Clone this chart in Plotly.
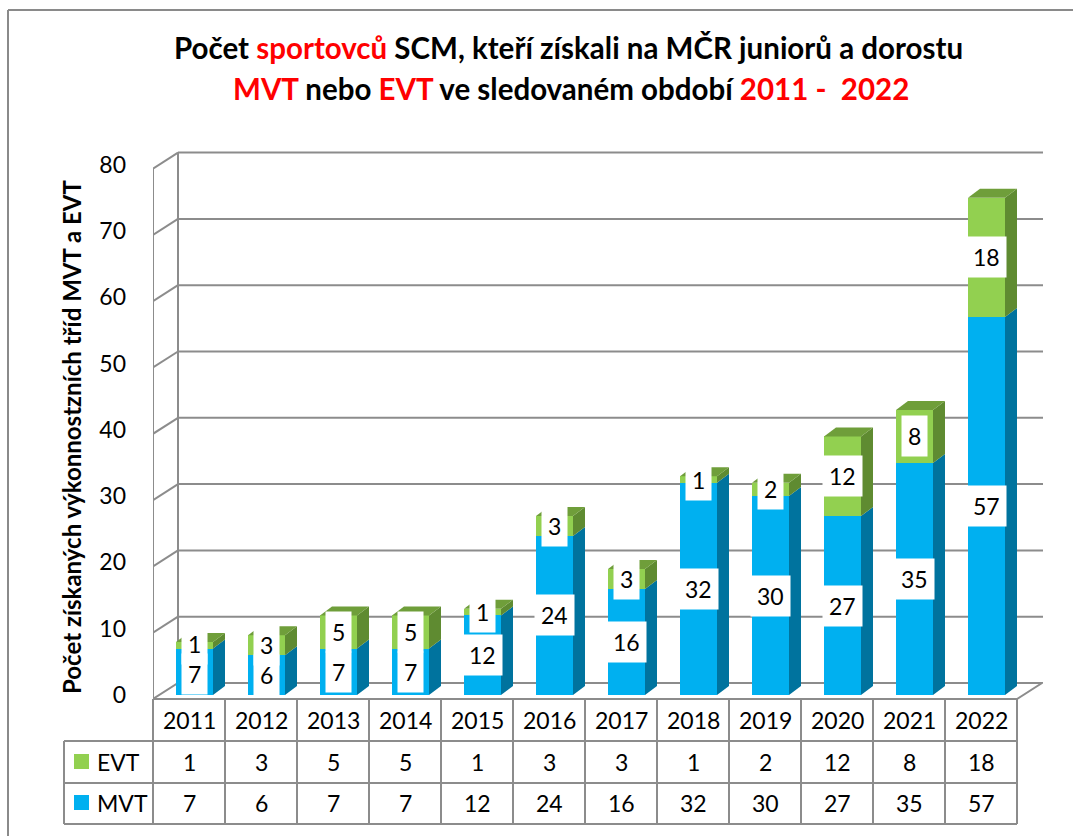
import plotly.graph_objects as go

# ---------------- data ----------------
years = ["2011", "2012", "2013", "2014", "2015", "2016",
         "2017", "2018", "2019", "2020", "2021", "2022"]
evt = [1, 3, 5, 5, 1, 3, 3, 1, 2, 12, 8, 18]
mvt = [7, 6, 7, 7, 12, 24, 16, 32, 30, 27, 35, 57]
y_ticks = [0, 10, 20, 30, 40, 50, 60, 70, 80]

# ---------------- geometry (pixels) ----------------
W, H = 1073, 836
PL, PR, PT, PB = 153, 1043, 140, 826
CELL = 72.0
Y0 = 695.0          # pixel of value 0 (bar base)
YU = 6.63           # pixels per unit
XMAX = (PR - PL) / CELL
YMAX = (Y0 - PT) / YU
YMIN = -(PB - Y0) / YU


def xp(px):
    return (px - PL) / (PR - PL)


def yp(py):
    return (PB - py) / (PB - PT)


def yd(py):
    return (Y0 - py) / YU


BAR_OFF = 5.5 / CELL
BAR_W = 37 / CELL
DX = 12 / CELL
DY = 9 / YU
WALL_DX = 25 / CELL
FRONT0 = yd(699)
BACK0 = yd(683)

GRID = "#8C8C8C"
MVT_F, MVT_S = "#00B0F0", "#00739E"
EVT_F, EVT_S, EVT_T = "#92D050", "#5F8B31", "#6F9E3A"
FONT = "Lato"

pos = [i + 0.5 + BAR_OFF for i in range(len(years))]

fig = go.Figure()
fig.add_trace(go.Bar(x=pos, y=mvt, width=BAR_W, marker=dict(color=MVT_F, line=dict(width=0)),
                     name="MVT", hoverinfo="skip"))
fig.add_trace(go.Bar(x=pos, y=evt, width=BAR_W, marker=dict(color=EVT_F, line=dict(width=0)),
                     name="EVT", hoverinfo="skip"))

shapes = []


def poly(pts, fill, layer="above", xref="x", yref="y", line_w=0, line_c=None):
    d = "M " + " L ".join(f"{a},{b}" for a, b in pts) + " Z"
    return dict(type="path", path=d, xref=xref, yref=yref, fillcolor=fill,
                line=dict(width=line_w, color=line_c or fill), layer=layer)


def line(x0, y0, x1, y1, xref="x", yref="y", w=2, c=GRID, layer="below"):
    return dict(type="line", x0=x0, y0=y0, x1=x1, y1=y1, xref=xref, yref=yref,
                line=dict(color=c, width=w), layer=layer)


# floor
shapes.append(poly([(0, FRONT0), (12, FRONT0), (12 + WALL_DX, BACK0), (WALL_DX, BACK0)],
                   "rgba(0,0,0,0)", layer="below", line_w=2, line_c=GRID))
# walls + gridlines
for v in y_ticks[1:]:
    shapes.append(line(WALL_DX, v + BACK0, XMAX, v + BACK0))
    shapes.append(line(0, v + FRONT0, WALL_DX, v + BACK0))
shapes.append(line(WALL_DX, BACK0, WALL_DX, y_ticks[-1] + BACK0))
shapes.append(line(0, FRONT0, 0, y_ticks[-1] + FRONT0))

# 3D side / top faces of bars
for i in range(len(years)):
    x1 = pos[i] + BAR_W / 2
    x0 = pos[i] - BAR_W / 2
    m, t = mvt[i], mvt[i] + evt[i]
    shapes.append(poly([(x1, 0), (x1 + DX, DY), (x1 + DX, m + DY), (x1, m)], MVT_S))
    shapes.append(poly([(x1, m), (x1 + DX, m + DY), (x1 + DX, t + DY), (x1, t)], EVT_S))
    shapes.append(poly([(x0, t), (x0 + DX, t + DY), (x1 + DX, t + DY), (x1, t)], EVT_T))

# data table (pixel frame)
rows = [741, 783, 824]
for r in rows:
    shapes.append(line(xp(64), yp(r), xp(PL + 12 * CELL), yp(r), xref="paper", yref="paper", layer="above"))
for k in range(13):
    shapes.append(line(xp(PL + k * CELL), yp(699), xp(PL + k * CELL), yp(824),
                       xref="paper", yref="paper", layer="above"))
shapes.append(line(xp(64), yp(741), xp(64), yp(824), xref="paper", yref="paper", layer="above"))
# legend keys
shapes.append(dict(type="rect", xref="paper", yref="paper", x0=xp(74), x1=xp(89), y0=yp(769), y1=yp(754),
                   fillcolor=EVT_F, line=dict(width=0)))
shapes.append(dict(type="rect", xref="paper", yref="paper", x0=xp(74), x1=xp(89), y0=yp(810), y1=yp(795),
                   fillcolor=MVT_F, line=dict(width=0)))
# chart border
shapes.append(line(xp(8), yp(10), xp(8), yp(840), xref="paper", yref="paper", c="#8A8A8A", layer="above"))
shapes.append(line(xp(8), yp(10), xp(1080), yp(10), xref="paper", yref="paper", c="#8A8A8A", layer="above"))

ann = []
TXT = dict(family=FONT, size=23, color="black")
# data labels (pushed apart slightly when a bar's two labels would collide)
MIN_SEP = 30 / YU
for i in range(len(years)):
    m_mid = mvt[i] / 2
    e_mid = mvt[i] + evt[i] / 2
    if e_mid - m_mid < MIN_SEP:
        c = (e_mid + m_mid) / 2
        m_mid, e_mid = c - MIN_SEP / 2, c + MIN_SEP / 2
    for val, mid in ((evt[i], e_mid), (mvt[i], m_mid)):
        ann.append(dict(x=pos[i], y=mid, xref="x", yref="y", text=str(val), showarrow=False,
                        xanchor="center", yanchor="middle",
                        bgcolor="white", borderpad=6, font=TXT))
# table text
for i, yv in enumerate(years):
    for txt, py in ((yv, 720), (str(evt[i]), 762), (str(mvt[i]), 803)):
        ann.append(dict(x=i + 0.5, y=yp(py), xref="x", yref="paper", text=txt, showarrow=False,
                        xanchor="center", yanchor="middle", font=TXT))
ann.append(dict(x=xp(95), y=yp(762), xref="paper", yref="paper", text="EVT", showarrow=False,
                xanchor="left", yanchor="middle", font=TXT))
ann.append(dict(x=xp(95), y=yp(803), xref="paper", yref="paper", text="MVT", showarrow=False,
                xanchor="left", yanchor="middle", font=TXT))

RED = "#FF0000"
ann.append(dict(x=xp(568), y=yp(48), xref="paper", yref="paper", showarrow=False,
                xanchor="center", yanchor="middle",
                text=f"<b>Počet <span style='color:{RED}'>sportovců</span> SCM, kteří získali na MČR juniorů a dorostu</b>",
                font=dict(family=FONT, size=29.5, color="black")))
ann.append(dict(x=xp(571), y=yp(88), xref="paper", yref="paper", showarrow=False,
                xanchor="center", yanchor="middle",
                text=f"<b><span style='color:{RED}'>MVT</span> nebo <span style='color:{RED}'>EVT</span> ve sledovaném období <span style='color:{RED}'>2011 -\u00a0 2022</span></b>",
                font=dict(family=FONT, size=29.5, color="black")))
ann.append(dict(x=xp(72), y=yp(437), xref="paper", yref="paper", showarrow=False, textangle=-90,
                xanchor="center", yanchor="middle",
                text="<b>Počet získaných výkonnostzních tříd MVT a EVT</b>",
                font=dict(family=FONT, size=24, color="black")))

fig.update_layout(
    width=W, height=H, barmode="stack", showlegend=False,
    margin=dict(l=PL, r=W - PR, t=PT, b=H - PB, pad=0),
    paper_bgcolor="white", plot_bgcolor="rgba(0,0,0,0)",
    xaxis=dict(range=[0, XMAX], visible=False, fixedrange=True),
    yaxis=dict(range=[YMIN, YMAX], tickvals=y_ticks, ticktext=[str(v) for v in y_ticks],
               showgrid=False, zeroline=False, showline=False, ticks="",
               tickfont=TXT, ticklabelstandoff=26, fixedrange=True),
    shapes=shapes, annotations=ann,
)

fig.write_html("out.html", config={"displayModeBar": False},
               post_script="document.body.style.margin='0';document.body.style.overflow='hidden';")
